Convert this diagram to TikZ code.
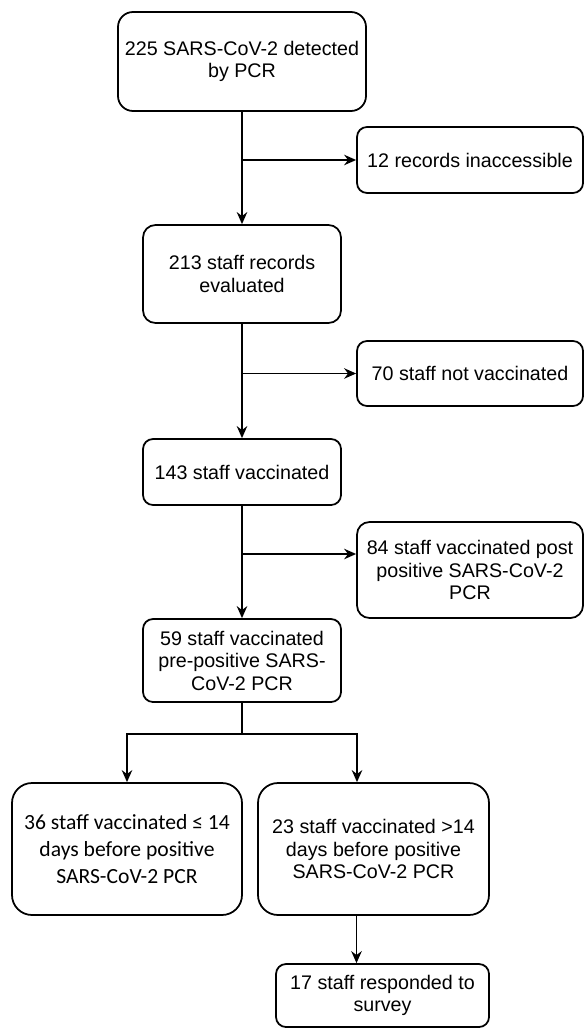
\documentclass[tikz,border=0pt]{standalone}
\usepackage{fontspec}
\setmainfont{Liberation Sans}
\newfontfamily\calibri{Carlito}
\usetikzlibrary{calc,positioning,arrows.meta}

\begin{document}
\begin{tikzpicture}[>={Stealth[length=2.4mm,width=2.1mm]},line width=1pt,
  font=\fontsize{11.2}{12.8}\selectfont,
  stepbox/.style={draw,rounded corners=2mm,align=center,inner sep=2pt,
    minimum width=3.96cm,minimum height=1.32cm},
  sidebox/.style={stepbox,minimum width=4.52cm}]
  \useasboundingbox (0,0) rectangle (11.68,-20.56);
  % --- main column ---
  \node[stepbox,rounded corners=3mm,minimum width=4.96cm,minimum height=1.98cm]
    (detect) at (4.84,-1.23) {225 SARS-CoV-2 detected\\by PCR};
  \node[stepbox,rounded corners=2.5mm,minimum height=1.96cm]
    (eval) at (4.84,-5.48) {213 staff records\\evaluated};
  \node[stepbox] (vacc) at (4.84,-9.44) {143 staff vaccinated};
  \node[stepbox,minimum height=1.66cm] (pre) at (4.84,-13.21)
    {59 staff vaccinated\\pre-positive SARS-\\CoV-2 PCR};
  % --- excluded on the right ---
  \node[sidebox] (inacc) at (9.40,-3.20) {12 records inaccessible};
  \node[sidebox,minimum height=1.30cm] (novacc) at (9.40,-7.47) {70 staff not vaccinated};
  \node[sidebox,rounded corners=2.5mm,minimum height=1.92cm] (post) at (9.40,-11.40)
    {84 staff vaccinated post\\positive SARS-CoV-2\\PCR};
  % --- split by interval ---
  \node[stepbox,rounded corners=4mm,minimum width=4.60cm,minimum height=2.64cm,
    font=\calibri\fontsize{12.3}{15.4}\selectfont]
    (early) at (2.54,-16.98) {36 staff vaccinated ≤ 14\\days before positive\\SARS-CoV-2 PCR};
  \node[stepbox,rounded corners=4mm,minimum width=4.62cm,minimum height=2.64cm]
    (late) at (7.47,-16.98) {23 staff vaccinated >14\\days before positive\\SARS-CoV-2 PCR};
  \node[stepbox,minimum width=4.26cm,minimum height=1.26cm] (survey) at (7.65,-19.91)
    {17 staff responded to\\survey};
  % --- connectors ---
  \coordinate (b1) at (detect.south |- inacc.west);
  \coordinate (b2) at (eval.south |- novacc.west);
  \coordinate (b3) at (4.84,-11.08);
  \coordinate (b4) at (4.84,-14.68);
  \draw[->] (detect) -- (eval);
  \draw[->] (b1) -- (inacc.west);
  \draw[->] (eval) -- (vacc);
  \draw[->] (b2) -- (novacc.west);
  \draw[->] (vacc) -- (pre);
  \draw[->] (b3) -- (b3 -| post.west);
  \draw (pre) -- (b4);
  \draw[->] (b4) -| (early.north);
  \draw[->] (b4) -| ([xshift=-0.33cm]late.north);
  \draw[->] ([xshift=-0.34cm]late.south) -- ([xshift=-0.34cm]late.south |- survey.north);
\end{tikzpicture}
\end{document}
